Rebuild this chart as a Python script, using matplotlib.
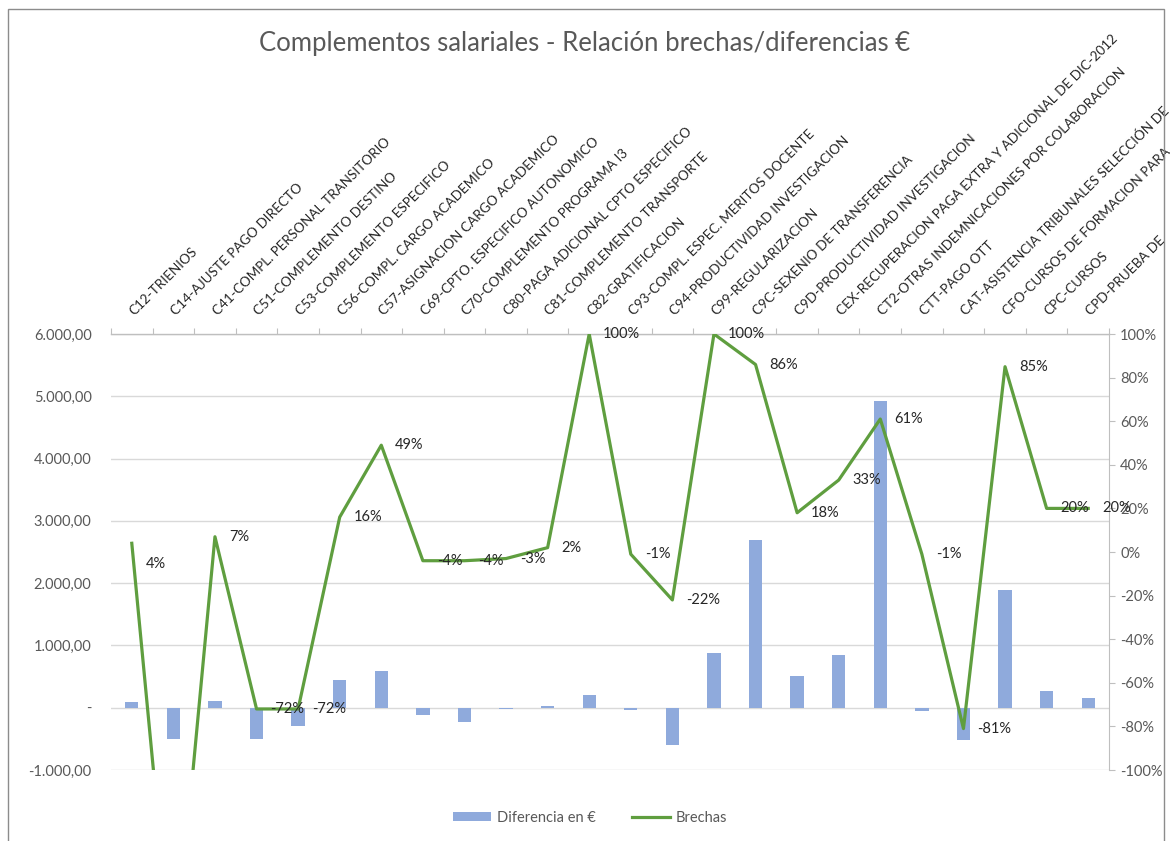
import numpy as np
import matplotlib.pyplot as plt
from matplotlib.patches import Rectangle
from matplotlib.ticker import FuncFormatter, FixedLocator

plt.rcParams['font.family'] = ['Lato', 'DejaVu Sans']

categorias = [
    'C12-TRIENIOS', 'C14-AJUSTE PAGO DIRECTO', 'C41-COMPL. PERSONAL TRANSITORIO',
    'C51-COMPLEMENTO DESTINO', 'C53-COMPLEMENTO ESPECIFICO', 'C56-COMPL. CARGO ACADEMICO',
    'C57-ASIGNACION CARGO ACADEMICO', 'C69-CPTO. ESPECIFICO AUTONOMICO',
    'C70-COMPLEMENTO PROGRAMA I3', 'C80-PAGA ADICIONAL CPTO ESPECIFICO',
    'C81-COMPLEMENTO TRANSPORTE', 'C82-GRATIFICACION', 'C93-COMPL. ESPEC. MERITOS DOCENTE',
    'C94-PRODUCTIVIDAD INVESTIGACION', 'C99-REGULARIZACION', 'C9C-SEXENIO DE TRANSFERENCIA',
    'C9D-PRODUCTIVIDAD INVESTIGACION', 'CEX-RECUPERACION PAGA EXTRA Y ADICIONAL DE DIC-2012',
    'CT2-OTRAS INDEMNICACIONES POR COLABORACION', 'CTT-PAGO OTT',
    'CAT-ASISTENCIA TRIBUNALES SELECCIÓN DE', 'CFO-CURSOS DE FORMACION PARA',
    'CPC-CURSOS', 'CPD-PRUEBA DE',
]
diferencia = [90, -500, 105, -500, -290, 445, 585, -123, -230, -18, 20, 200,
              -43, -600, 875, 2690, 505, 840, 4920, -60, -520, 1895, 263, 156]
brechas = [0.04, -1.96, 0.07, -0.72, -0.72, 0.16, 0.49, -0.04, -0.04, -0.03, 0.02, 1.00,
           -0.01, -0.22, 1.00, 0.86, 0.18, 0.33, 0.61, -0.01, -0.81, 0.85, 0.20, 0.20]

gris = '#595959'
x = np.arange(len(categorias))

fig = plt.figure(figsize=(11.7, 8.41), dpi=100)
ax = fig.add_axes([111/1170, 1 - 770/841, 998/1170, 436/841])
ax2 = ax.twinx()

# barras (eje izquierdo)
ax.bar(x, diferencia, width=0.32, color='#8FAADC', zorder=2, label='Diferencia en €')
ax.set_xlim(-0.5, len(categorias) - 0.5)
ax.set_ylim(-1000, 6000)
ax.set_yticks(np.arange(-1000, 6001, 1000))

def fmt_euros(v, pos):
    if abs(v) < 1e-9:
        return '-'
    s = f'{abs(v):,.2f}'.replace(',', 'X').replace('.', ',').replace('X', '.')
    return ('-' if v < 0 else '') + s

def fmt_pct(v, pos):
    n = int(round(v * 100))
    return f'{n}%'

ax.yaxis.set_major_formatter(FuncFormatter(fmt_euros))
ax.tick_params(axis='y', length=0, labelsize=10.5, labelcolor=gris, pad=14)
ax.grid(axis='y', color='#D9D9D9', lw=1.0, zorder=0)
for s in ['left', 'right', 'bottom']:
    ax.spines[s].set_visible(False)
ax.spines['top'].set_color('#BFBFBF')
ax.spines['top'].set_linewidth(1.0)

ax.xaxis.tick_top()
ax.xaxis.set_major_locator(FixedLocator(np.arange(-0.5, len(categorias), 1.0)))
ax.tick_params(axis='x', length=4, color='#BFBFBF', labeltop=False, labelbottom=False)

for i, c in enumerate(categorias):
    ax.annotate(c, xy=(i, 1), xycoords=ax.get_xaxis_transform(),
                xytext=(0, 15), textcoords='offset points', rotation=45,
                rotation_mode='anchor', ha='left', va='center', fontsize=9.7,
                color='#262626', annotation_clip=False)

# linea (eje derecho)
ax2.plot(x, brechas, color='#5F9E3F', lw=2.3, zorder=3, label='Brechas')
ax2.set_ylim(-1, 1)
ax2.set_yticks(np.arange(-1, 1.01, 0.2))
ax2.yaxis.set_major_formatter(FuncFormatter(fmt_pct))
ax2.tick_params(axis='y', length=4, color='#BFBFBF', labelsize=10.5, labelcolor=gris, pad=4)
for s in ['left', 'top', 'bottom']:
    ax2.spines[s].set_visible(False)
ax2.spines['right'].set_color('#BFBFBF')

for i, b in enumerate(brechas):
    if b < -1 or b > 1:
        continue
    dy = -15 if i == 0 else 0
    ax2.annotate(fmt_pct(b, None), xy=(i, b), xytext=(10, dy), textcoords='offset points',
                 ha='left', va='center', fontsize=10.5, color='#262626')

fig.suptitle('Complementos salariales - Relación brechas/diferencias €',
             x=0.5, y=1 - 43/841, va='center', fontsize=18.5, color=gris)

h1, l1 = ax.get_legend_handles_labels()
h2, l2 = ax2.get_legend_handles_labels()
fig.legend(h1 + h2, l1 + l2, loc='center', bbox_to_anchor=(590/1170, 1 - 818/841),
           ncol=2, frameon=False, fontsize=10.5, labelcolor=gris,
           handlelength=2.6, handleheight=0.6, columnspacing=2.5, handletextpad=0.4)

fig.patches.append(Rectangle((8/1170, -0.05), 1156/1170, 1.05 - 9/841,
                             transform=fig.transFigure, fill=False,
                             edgecolor='#8C8C8C', lw=1.0))

fig.savefig('out.png', dpi=100)
